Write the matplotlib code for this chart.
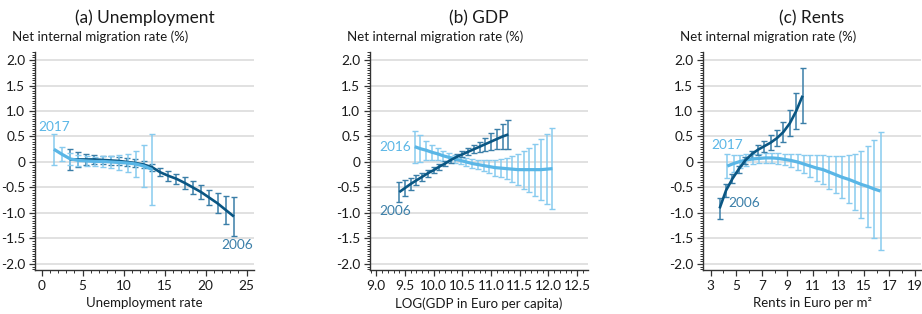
import matplotlib
matplotlib.use("Agg")
import matplotlib.pyplot as plt
from matplotlib.ticker import MultipleLocator
import numpy as np

plt.rcParams['font.family'] = ['Lato', 'DejaVu Sans']

# ---------------- data ----------------
# (a) Unemployment
a_x_2017 = [1.5, 2.5, 3.5, 4.5, 5.5, 6.5, 7.5, 8.5, 9.5, 10.5, 11.5, 12.5, 13.5]
a_y_2017 = [0.25, 0.15, 0.06, 0.03, 0.02, 0.01, 0.01, 0.0, -0.01, -0.02, -0.04, -0.08, -0.15]
a_e_2017 = [0.30, 0.14, 0.11, 0.10, 0.09, 0.09, 0.10, 0.11, 0.14, 0.18, 0.26, 0.42, 0.70]

a_x_2006 = [3.45, 4.45, 5.45, 6.45, 7.45, 8.45, 9.45, 10.45, 11.45, 12.45, 13.45,
            14.45, 15.45, 16.45, 17.45, 18.45, 19.45, 20.45, 21.45, 22.45, 23.45]
a_y_2006 = [0.05, 0.05, 0.05, 0.05, 0.04, 0.03, 0.02, 0.0, -0.02, -0.05, -0.10,
            -0.20, -0.27, -0.33, -0.41, -0.50, -0.59, -0.70, -0.81, -0.94, -1.07]
a_e_2006 = [0.21, 0.14, 0.11, 0.09, 0.08, 0.08, 0.07, 0.07, 0.07, 0.07, 0.07,
            0.08, 0.10, 0.10, 0.11, 0.12, 0.13, 0.15, 0.20, 0.27, 0.38]

# (b) GDP
b_x_2006 = [9.4, 9.5, 9.6, 9.7, 9.8, 9.9, 10.0, 10.1, 10.2, 10.3,
            10.4, 10.5, 10.6, 10.7, 10.8, 10.9, 11.0, 11.1, 11.2, 11.3]
b_y_2006 = [-0.59, -0.51, -0.43, -0.36, -0.29, -0.22, -0.16, -0.09, -0.03, 0.04,
            0.10, 0.15, 0.20, 0.25, 0.30, 0.35, 0.40, 0.45, 0.50, 0.54]
b_e_2006 = [0.20, 0.15, 0.12, 0.10, 0.08, 0.07, 0.06, 0.06, 0.05, 0.05,
            0.06, 0.06, 0.07, 0.08, 0.10, 0.13, 0.16, 0.19, 0.25, 0.28]

b_x_2016 = [9.67, 9.77, 9.87, 9.97, 10.07, 10.17, 10.27, 10.37, 10.47, 10.57,
            10.67, 10.77, 10.87, 10.97, 11.07, 11.17, 11.27, 11.37, 11.47, 11.57,
            11.67, 11.77, 11.87, 11.97, 12.07]
b_y_2016 = [0.30, 0.26, 0.23, 0.19, 0.16, 0.12, 0.09, 0.06, 0.03, 0.0,
            -0.03, -0.05, -0.07, -0.09, -0.11, -0.12, -0.13, -0.14, -0.15, -0.15,
            -0.15, -0.15, -0.15, -0.14, -0.13]
b_e_2016 = [0.31, 0.26, 0.19, 0.15, 0.12, 0.10, 0.08, 0.07, 0.07, 0.07,
            0.08, 0.09, 0.11, 0.13, 0.155, 0.18, 0.21, 0.26, 0.31, 0.37,
            0.43, 0.51, 0.60, 0.69, 0.79]

# (c) Rents
c_x_2006 = [3.7, 4.2, 4.7, 5.2, 5.7, 6.2, 6.7, 7.2, 7.7, 8.2, 8.7, 9.2, 9.7, 10.2]
c_y_2006 = [-0.91, -0.56, -0.33, -0.14, 0.03, 0.15, 0.24, 0.31, 0.38, 0.47, 0.59, 0.76, 1.0, 1.3]
c_e_2006 = [0.21, 0.12, 0.09, 0.07, 0.06, 0.07, 0.10, 0.11, 0.14, 0.16, 0.20, 0.25, 0.36, 0.54]

c_x_2017 = [4.3, 4.8, 5.3, 5.8, 6.3, 6.8, 7.3, 7.8, 8.3, 8.8, 9.3, 9.8, 10.3,
            10.8, 11.3, 11.8, 12.3, 12.8, 13.3, 13.8, 14.3, 14.8, 15.3, 15.8, 16.3]
c_y_2017 = [-0.08, -0.03, 0.01, 0.04, 0.06, 0.07, 0.08, 0.08, 0.07, 0.05, 0.03, 0.0, -0.04,
            -0.08, -0.12, -0.15, -0.20, -0.25, -0.30, -0.34, -0.39, -0.44, -0.48, -0.53, -0.57]
c_e_2017 = [0.235, 0.17, 0.13, 0.11, 0.10, 0.09, 0.09, 0.09, 0.10, 0.11, 0.12, 0.15, 0.18,
            0.21, 0.25, 0.28, 0.32, 0.36, 0.41, 0.47, 0.55, 0.66, 0.80, 0.97, 1.165]

y_ticks = [2.0, 1.5, 1.0, 0.5, 0.0, -0.5, -1.0, -1.5, -2.0]
y_ticklabels = ["2.0", "1.5", "1.0", "0.5", "0", "-0.5", "-1.0", "-1.5", "-2.0"]

titles = ["(a) Unemployment", "(b) GDP", "(c) Rents"]
xlabels = ["Unemployment rate", "LOG(GDP in Euro per capita)", "Rents in Euro per m²"]
a_xticks = [0, 5, 10, 15, 20, 25]
b_xticks = [9.0, 9.5, 10.0, 10.5, 11.0, 11.5, 12.0, 12.5]
c_xticks = [3, 5, 7, 9, 11, 13, 15, 17, 19]

# ---------------- style ----------------
DARK = "#0a5683"
DARK_ERR = "#3a7ea8"
LIGHT = "#5ab6e6"
LIGHT_ERR = "#88cbef"
GRID = "#dcdcdc"
TXT = "#1a1a1a"

W, H = 922, 314
fig = plt.figure(figsize=(W / 100, H / 100), dpi=100)

axes_px = [(35, 254), (370, 588), (703, 921)]
top_px, bot_px = 52, 270
xlims = [(-0.8, 25.9), (8.89, 12.69), (2.4, 19.47)]
xminor = [1, 0.1, 1]
xtick_sets = [(a_xticks, [str(t) for t in a_xticks]),
              (b_xticks, [f"{t:.1f}" for t in b_xticks]),
              (c_xticks, [str(t) for t in c_xticks])]

series = [
    [(a_x_2006, a_y_2006, a_e_2006, DARK, DARK_ERR, 1.9),
     (a_x_2017, a_y_2017, a_e_2017, LIGHT, LIGHT_ERR, 2.3)],
    [(b_x_2016, b_y_2016, b_e_2016, LIGHT, LIGHT_ERR, 2.3),
     (b_x_2006, b_y_2006, b_e_2006, DARK, DARK_ERR, 1.9)],
    [(c_x_2017, c_y_2017, c_e_2017, LIGHT, LIGHT_ERR, 2.3),
     (c_x_2006, c_y_2006, c_e_2006, DARK, DARK_ERR, 1.9)],
]

labels = [
    [("2017", 1.5, 0.69, LIGHT), ("2006", 23.8, -1.63, DARK_ERR)],
    [("2016", 9.33, 0.29, LIGHT), ("2006", 9.33, -0.97, DARK_ERR)],
    [("2017", 4.3, 0.34, LIGHT), ("2006", 5.62, -0.80, DARK_ERR)],
]

for i in range(3):
    l, r = axes_px[i]
    ax = fig.add_axes([l / W, (H - bot_px) / H, (r - l) / W, (bot_px - top_px) / H])
    ax.set_xlim(*xlims[i])
    ax.set_ylim(-2.118, 2.157)
    ax.set_yticks(y_ticks)
    ax.set_yticklabels(y_ticklabels)
    ax.yaxis.set_minor_locator(MultipleLocator(0.05))
    ax.set_xticks(xtick_sets[i][0])
    ax.set_xticklabels(xtick_sets[i][1])
    ax.xaxis.set_minor_locator(MultipleLocator(xminor[i]))
    for s in ["top", "right"]:
        ax.spines[s].set_visible(False)
    for s in ["left", "bottom"]:
        ax.spines[s].set_color("#333333")
        ax.spines[s].set_linewidth(1.0)
    ax.tick_params(axis="both", which="major", length=4, width=0.9, color="#333333",
                   labelsize=9.8, labelcolor=TXT, pad=3)
    ax.tick_params(axis="both", which="minor", length=2, width=0.7, color="#333333")
    ax.grid(axis="y", which="major", color=GRID, lw=1.2)
    ax.set_axisbelow(True)

    for (xs, ys, es, lc, ec, lw) in series[i]:
        ax.errorbar(xs, ys, yerr=es, fmt="none", ecolor=ec, elinewidth=1.1,
                    capsize=2.2, capthick=1.0, zorder=2)
        ax.plot(xs, ys, color=lc, lw=lw, solid_capstyle="butt", zorder=3)

    for (t, tx, ty, tc) in labels[i]:
        ax.text(tx, ty, t, color=tc, fontsize=9.8, ha="center", va="center", zorder=4)

    ax.set_xlabel(xlabels[i], fontsize=9.5, color=TXT, labelpad=4)
    fig.text((l + r) / 2 / W, 1 - 18 / H, titles[i], ha="center", va="center",
             fontsize=12.4, color=TXT)
    fig.text((l - 23) / W, 1 - 37 / H, "Net internal migration rate (%)",
             ha="left", va="center", fontsize=9.5, color=TXT)

fig.savefig("out.png", dpi=100)
